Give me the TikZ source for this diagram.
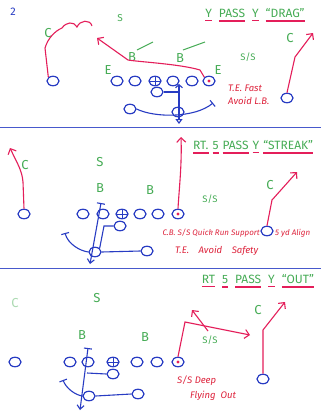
\documentclass[tikz,border=0pt]{standalone}
\usepackage{fontspec}
\setmainfont{Fira Sans}
\usepackage{xcolor}
\definecolor{playblue}{RGB}{40, 60, 195}
\definecolor{routered}{RGB}{228, 30, 90}
\definecolor{notered}{RGB}{222, 35, 60}
\definecolor{defgreen}{RGB}{70, 172, 85}
\usepackage{tikz}
\usetikzlibrary{arrows.meta, positioning, shapes.geometric}
% underlined title word
\newcommand{\tword}[1]{\setbox0=\hbox{#1}\vtop{\offinterlineskip\copy0\kern2.5pt\hbox{\color{routered}\vrule width\wd0 height1.4pt depth0pt}}}
\newcommand{\tgap}{\hspace{7pt}}

\begin{document}
\begin{tikzpicture}[x=1pt, y=-1pt,
  player/.style={draw=playblue, line width=1.2pt, ellipse, minimum width=12pt, minimum height=9.5pt, inner sep=0pt},
  centre/.style={player, path picture={\draw[playblue, line width=1pt] (path picture bounding box.north) -- (path picture bounding box.south) (path picture bounding box.west) -- (path picture bounding box.east);}},
  tightend/.style={player, path picture={\fill[routered] (path picture bounding box.center) circle (1.6pt);}},
  defman/.style={text=defgreen, font=\fontsize{13}{13}\selectfont, inner sep=0pt},
  heading/.style={text=defgreen, font=\fontsize{12}{14}\selectfont, inner sep=0pt},
  note/.style={text=notered, font=\itshape\fontsize{9.5}{11}\selectfont, inner sep=0pt},
  route/.style={draw=routered, line width=1.1pt, -{Straight Barb[length=4.5pt, width=9pt]}},
  block/.style={draw=playblue, line width=1.1pt},
  divider/.style={draw=playblue!85, line width=1pt}]

\useasboundingbox (0,0) rectangle (321,413);
\fill[white] (0,0) rectangle (321,413);

% play 2: y drag
\node[text=playblue, font=\fontsize{11}{11}\selectfont] (num) at (13,12) {2};
\node[heading] (atitle) at (255,15) {\tword{Y}\tgap\tword{PASS}\tgap\tword{Y}\tgap\tword{``DRAG''}};
\node[player] (awl) at (53,81) {};
\node[player] (a1) at (117,81) {};
\node[player] (a2) at (135,81) {};
\node[centre] (ac) at (155,81) {};
\node[player] (a4) at (173,81) {};
\node[player] (a5) at (192,81) {};
\node[tightend] (ate) at (209,81) {};
\node[player] (awr) at (287,98) {};
\node[player] (aqb) at (157,92) {};
\node[player] (arb) at (178,112) {};
\node[player] (afb) at (130,109) {};
\node[defman, font=\fontsize{10}{10}\selectfont] (as) at (120,18) {S};
\node[defman] (acl) at (48,33) {C};
\node[defman] (ab1) at (132,57) {B};
\node[defman] (ab2) at (180,58) {B};
\node[defman, font=\fontsize{9.5}{10}\selectfont] (ass) at (248,57) {S/S};
\node[defman] (acr) at (290,38) {C};
\node[defman] (ael) at (108,70) {E};
\node[defman] (aer) at (218,70) {E};
\node[note, anchor=west] (anote1) at (228,88) {T.E. Fast};
\node[note, below=5pt of anote1.south west, anchor=north west] (anote2) {Avoid L.B.};
\draw[defgreen, line width=1pt] (137,50) -- (153,42);
\draw[defgreen, line width=1pt] (183,50) -- (205,42);
\coordinate (acurl) at (92,26);
\coordinate (aend1) at (97,38);
\coordinate (aend2) at (313,33);
\draw[draw=routered, line width=1.1pt] (awl.north west) -- (45,48) .. controls (48,38) and (55,31) .. (62,28) .. controls (66,22) and (74,21) .. (77,27) .. controls (80,20) and (90,19) .. (acurl);
\draw[route] (ate.north west) -- (200,70) .. controls (180,64) and (140,62) .. (128,60) -- (aend1);
\draw[route] (awr.north) -- (295,57) -- (aend2);
\coordinate (atop) at (179,84);
\coordinate (abot) at (179,124);
\coordinate (ablk) at (213,103);
\draw[block, {Straight Barb[length=3pt, width=7pt]}-{Triangle[open, length=5pt, width=7pt]}] (atop) -- (abot);
\draw[block] (aqb.east) -- (atop |- aqb.east);
\draw[block, -{Bar[width=8pt]}] (afb.east) .. controls (155,118) and (195,118) .. (ablk);
\draw[divider] (0,127) -- (321,127);

% play rt 5 streak
\node[heading, anchor=west] (btitle) at (193,147) {\tword{RT.}\hspace{4pt}\tword{5}\hspace{4pt}\tword{PASS}\hspace{4pt}\tword{Y}\hspace{4pt}\tword{``STREAK''}};
\node[player] (bwl) at (24,214) {};
\node[player] (b1) at (83,214) {};
\node[player] (b2) at (103,214) {};
\node[centre] (bc) at (122,214) {};
\node[player] (b4) at (140,214) {};
\node[player] (b5) at (158,214) {};
\node[tightend] (bte) at (178,214) {};
\node[player] (bwr) at (267,231) {};
\node[player] (bqb) at (120,226) {};
\node[player] (brb) at (95,252) {};
\node[player] (bfb) at (147,251) {};
\node[defman] (bcl) at (25,165) {C};
\node[defman] (bs) at (100,162) {S};
\node[defman] (bb1) at (100,188) {B};
\node[defman] (bb2) at (150,190) {B};
\node[defman, font=\fontsize{9.5}{10}\selectfont] (bss) at (210,199) {S/S};
\node[defman] (bcr) at (270,185) {C};
\node[note, anchor=east, font=\itshape\fontsize{8}{9}\selectfont] (bnote1) at (260,233) {C.B. S/S Quick Run Support};
\node[note, anchor=west, font=\itshape\fontsize{8}{9}\selectfont] (bnote2) at (275,233) {5 yd Align};
\node[note, anchor=west] (bnote3) at (175,251) {T.E.\quad Avoid\quad Safety};
\coordinate (bend1) at (10,148);
\coordinate (bend2) at (181,137);
\coordinate (bend3) at (297,172);
\draw[route] (bwl.north) -- (23,182) .. controls (22,170) and (17,163) .. (bend1);
\draw[route] (bte.north) .. controls (179,190) and (182,165) .. (bend2);
\draw[route] (bwr.north) -- (272,200) -- (bend3);
\coordinate (btop) at (101,203);
\coordinate (bbot) at (90,264);
\coordinate (bblk) at (65,233);
\draw[block, {Bar[width=8pt]}-{Straight Barb[length=4pt, width=7pt]}] (btop) -- (bbot);
\draw[block] (bqb.west) -- (104,226) -- (brb.north east);
\draw[block] (bfb.west) -- (brb.east);
\draw[block, -{Bar[width=8pt]}] (brb.west) .. controls (80,251) and (68,244) .. (bblk);
\draw[divider] (0,268) -- (321,268);

% play rt 5 out
\node[heading] (ctitle) at (258,281) {\tword{RT}\tgap\tword{5}\tgap\tword{PASS}\tgap\tword{Y}\tgap\tword{``OUT''}};
\node[player] (cwl) at (15,362) {};
\node[player] (c1) at (70,362) {};
\node[player] (c2) at (88,362) {};
\node[centre] (cc) at (113,362) {};
\node[player] (c4) at (137,362) {};
\node[player] (c5) at (157,362) {};
\node[tightend] (cte) at (178,362) {};
\node[player] (cwr) at (263,379) {};
\node[player] (cqb) at (113,374) {};
\node[player] (crb) at (89,396) {};
\node[player] (cfb) at (138,394) {};
\node[defman, text=defgreen!45] (ccl) at (15,303) {C};
\node[defman] (cs) at (97,298) {S};
\node[defman] (cb1) at (82,335) {B};
\node[defman] (cb2) at (145,337) {B};
\node[defman, font=\fontsize{9.5}{10}\selectfont] (css) at (210,340) {S/S};
\node[defman] (ccr) at (258,310) {C};
\node[note, anchor=west] (cnote1) at (177,381) {S/S Deep};
\node[note, anchor=west] (cnote2) at (190,396) {Flying\ \ Out};
\coordinate (cend1) at (250,335);
\coordinate (cstart2) at (208,331);
\coordinate (cend2) at (192,310);
\coordinate (cend3) at (285,302);
\draw[route] (cte.north) -- (185,322) -- (cend1);
\draw[route] (cstart2) -- (cend2);
\draw[route] (cwr.north) -- (263,330) -- (cend3);
\coordinate (ctop) at (88,348);
\coordinate (cbot) at (80,410);
\coordinate (cblk) at (63,380);
\draw[block, {Bar[width=8pt]}-{Straight Barb[length=4pt, width=7pt]}] (ctop) -- (cbot);
\draw[block] (cqb.west) -- (87,373);
\draw[block] (cfb.west) -- (crb.east);
\draw[block, -{Bar[width=8pt]}] (crb.west) .. controls (75,395) and (66,388) .. (cblk);
\end{tikzpicture}
\end{document}
